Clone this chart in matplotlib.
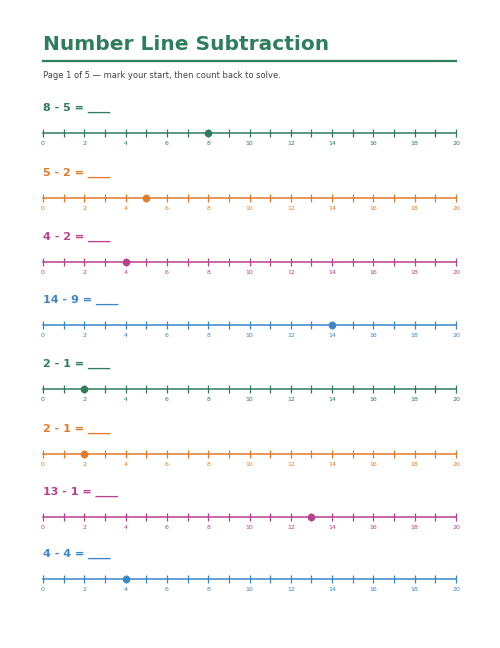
import matplotlib
matplotlib.use("Agg")
import matplotlib.pyplot as plt

minuends = [8, 5, 4, 14, 2, 2, 13, 4]
subtrahends = [5, 2, 2, 9, 1, 1, 1, 4]
colors = ["#2e7d5b", "#e07b2a", "#b8408f", "#3a86c8"] * 2
title = "Number Line Subtraction"
subtitle = "Page 1 of 5 \u2014 mark your start, then count back to solve."
line_y = [133, 198, 262, 325, 389, 454, 517, 579]
W, H = 500, 648

fig = plt.figure(figsize=(5, 6.48), dpi=100)
fig.text(43/W, 1-45/H, title, fontsize=14.5, fontweight="bold", color="#2e7d5b", va="center", family="DejaVu Sans")
fig.add_artist(plt.Line2D([43/W, 456/W], [1-61/H]*2, color="#2e7d5b", lw=1.6))
fig.text(43/W, 1-75/H, subtitle, fontsize=6, color="#444444", va="center")

for a, b, c, ly in zip(minuends, subtrahends, colors, line_y):
    fig.text(43/W, 1-(ly-25)/H, f"{a} - {b} = ____", fontsize=8, fontweight="bold", color=c, va="center")
    ax = fig.add_axes([43/W, 1-(ly+8)/H, 413/W, 16/H])
    ax.set_xlim(0, 20); ax.set_ylim(-1, 1)
    for s in ["top", "left", "right"]:
        ax.spines[s].set_visible(False)
    ax.spines["bottom"].set_position(("data", 0))
    ax.spines["bottom"].set_color(c); ax.spines["bottom"].set_linewidth(1.1)
    ax.set_yticks([])
    ax.set_xticks(range(0, 21, 2))
    ax.set_xticks(range(0, 21), minor=True)
    ax.tick_params(axis="x", which="both", direction="inout", length=6, width=0.9, color=c,
                   labelsize=4.5, labelcolor=c, pad=3)
    ax.patch.set_alpha(0)
    ax.plot([a], [0], "o", color=c, ms=4.5, clip_on=False)

fig.savefig("out.png", dpi=100, facecolor="white")
